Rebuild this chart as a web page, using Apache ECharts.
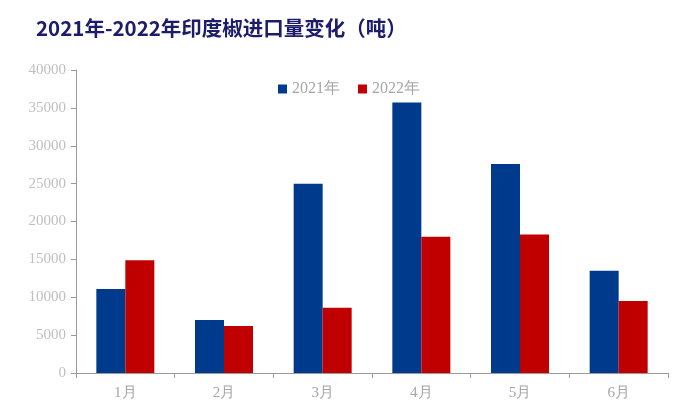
<!DOCTYPE html>
<html><head><meta charset="utf-8">
<script src="https://cdn.jsdelivr.net/npm/echarts@6/dist/echarts.min.js"></script>
<style>html,body{margin:0;padding:0;background:#fff}#c{width:700px;height:420px}</style>
</head><body><div id="c"></div>
<script>
const categories = ['1月','2月','3月','4月','5月','6月'];
const series2021 = [11100, 7000, 25000, 35700, 27600, 13500];
const series2022 = [14900, 6200, 8600, 18000, 18300, 9500];
const seriesNames = ['2021年','2022年'];

const chart = echarts.init(document.getElementById('c'));
chart.setOption({
  backgroundColor: '#fff',
  animation: false,
  title: {
    text: '2021年-2022年印度椒进口量变化（吨）',
    left: 31, top: 13,
    textStyle: {fontFamily: '"Noto Sans CJK SC"', fontWeight: 'bold', fontSize: 20.5, color: '#1c1c6b'}
  },
  legend: {
    data: seriesNames,
    left: 273, top: 76,
    itemWidth: 9, itemHeight: 9, itemGap: 18,
    icon: 'rect',
    textStyle: {fontFamily: '"Liberation Serif"', fontSize: 16, color: '#a6a6a6'}
  },
  grid: {left: 76, right: 32, top: 70, bottom: 47},
  xAxis: {
    type: 'category', data: categories,
    axisLine: {lineStyle: {color: '#9a9a9a'}},
    axisTick: {show: true, length: 5, lineStyle: {color: '#9a9a9a'}},
    axisLabel: {fontFamily: '"Liberation Serif"', fontSize: 15, color: '#a6a6a6', margin: 13}
  },
  yAxis: {
    type: 'value', min: 0, max: 40000, interval: 5000,
    axisLine: {show: true, lineStyle: {color: '#9a9a9a'}},
    axisTick: {show: true, length: 5, lineStyle: {color: '#9a9a9a'}},
    splitLine: {show: false},
    axisLabel: {fontFamily: '"Liberation Serif"', fontSize: 15, color: '#bfbfbf', margin: 10,
      formatter: v => String(v)}
  },
  series: [
    {name: seriesNames[0], type: 'bar', data: series2021, barWidth: 29, barGap: '0%', itemStyle: {color: '#003a8c'}},
    {name: seriesNames[1], type: 'bar', data: series2022, barWidth: 29, barGap: '0%', itemStyle: {color: '#c00000'}}
  ]
});
</script></body></html>
